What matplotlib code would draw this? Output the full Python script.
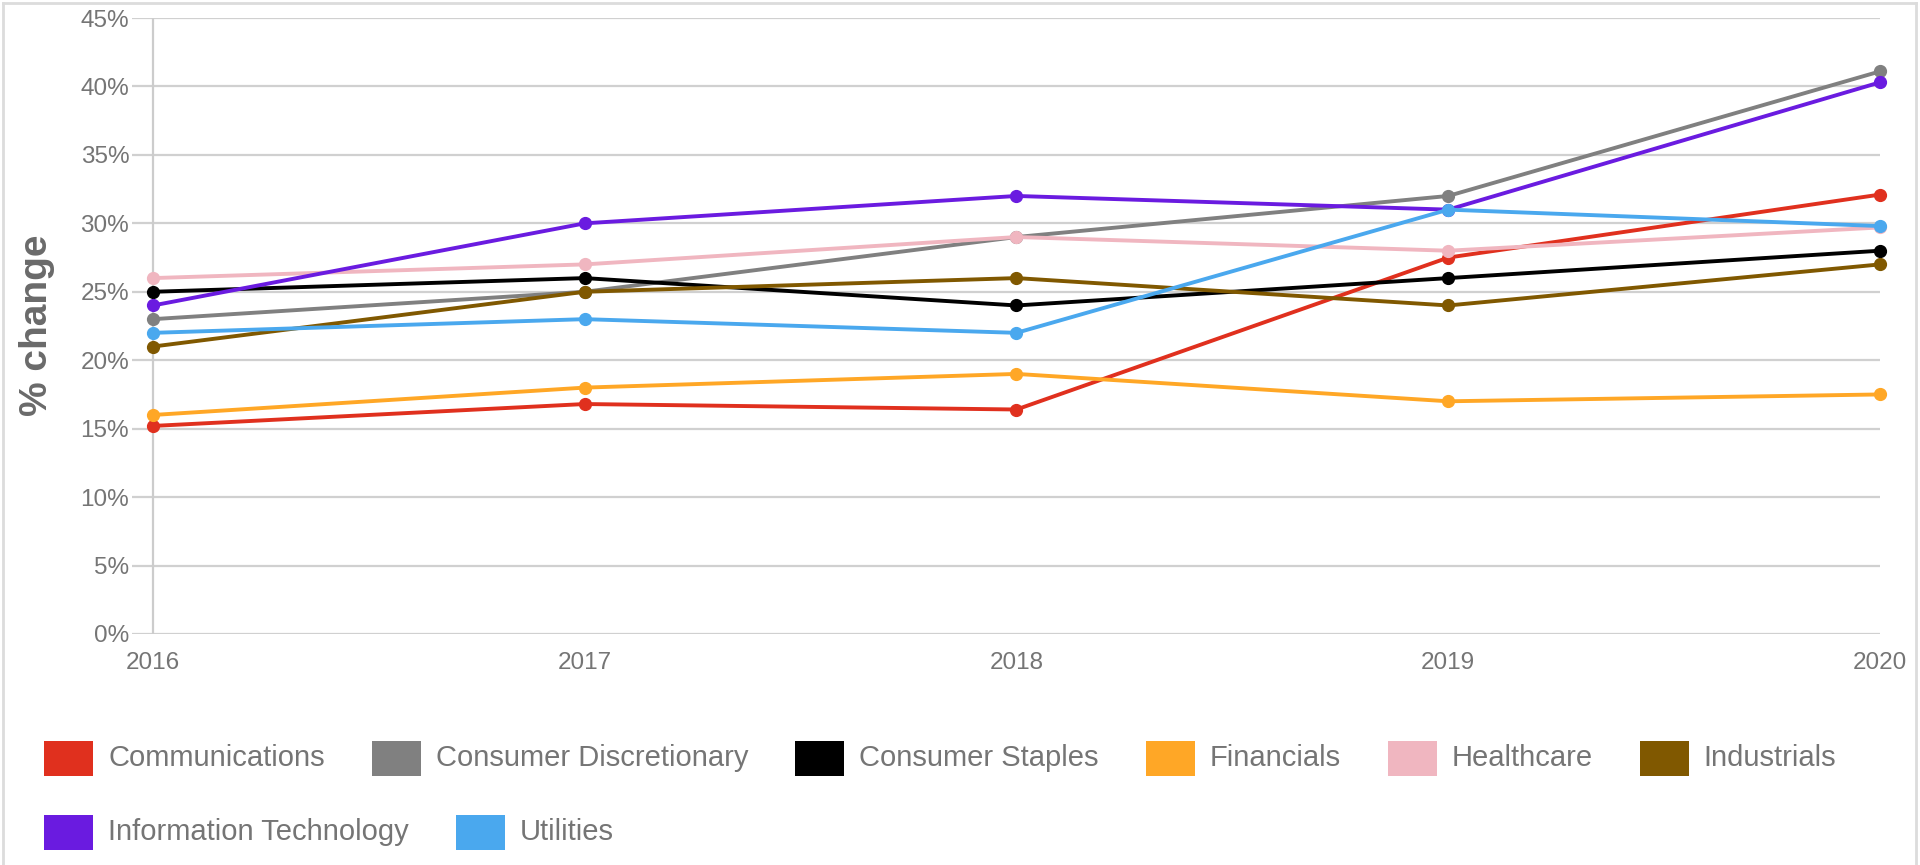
import matplotlib
matplotlib.use("Agg")
from matplotlib import pyplot as plt
from matplotlib.patches import Rectangle
from matplotlib.lines import Line2D

plt.rcParams['font.family'] = ['Liberation Sans', 'DejaVu Sans']

years = [2016, 2017, 2018, 2019, 2020]
sectors = ["Communications", "Consumer Discretionary", "Consumer Staples",
           "Financials", "Healthcare", "Industrials",
           "Information Technology", "Utilities"]
communications = [15.2, 16.8, 16.4, 27.5, 32.1]
consumer_discretionary = [23, 25, 29, 32, 41.1]
consumer_staples = [25, 26, 24, 26, 28]
financials = [16, 18, 19, 17, 17.5]
healthcare = [26, 27, 29, 28, 29.7]
industrials = [21, 25, 26, 24, 27]
information_technology = [24, 30, 32, 31, 40.3]
utilities = [22, 23, 22, 31, 29.8]
series = [communications, consumer_discretionary, consumer_staples,
          financials, healthcare, industrials, information_technology,
          utilities]
colors = ["#e0301e", "#808080", "#000000", "#ffa726", "#f0b6c0",
          "#805800", "#6a1be0", "#4aa8ee"]
yticks = list(range(0, 50, 5))

W, H = 1920, 865
fig = plt.figure(figsize=(W / 100, H / 100), dpi=100)

# axes: gridlines run from x=132 to 1880, first year sits at x=153
left, right, top, bottom = 132, 1880, 18, 634
ax = fig.add_axes([left / W, (H - bottom) / H, (right - left) / W,
                   (bottom - top) / H])
step = (right - 153) / 4.0
ax.set_xlim(2016 - (153 - left) / step, 2020)
ax.set_ylim(0, 45)

for v in yticks:
    ax.axhline(v, color="#d0d0d0", lw=1.6, zorder=0)
ax.axvline(2016, color="#cccccc", lw=1.6, zorder=0.5)

for vals, c in zip(series, colors):
    ax.plot(years, vals, color=c, lw=2.8, marker="o", markersize=8.5,
            clip_on=False, zorder=3)

for s in ax.spines.values():
    s.set_visible(False)
ax.set_yticks(yticks)
ax.set_yticklabels(["{}%".format(v) for v in yticks])
ax.set_xticks(years)
ax.set_xticklabels([str(y) for y in years])
ax.tick_params(axis="y", length=0, pad=2, labelsize=17.5, labelcolor="#757575")
ax.tick_params(axis="x", length=0, pad=13, labelsize=17.5, labelcolor="#757575")
fig.text(37 / W, (H - 325) / H, "% change", fontsize=28, fontweight="bold",
         color="#6a6a6a", rotation=90, ha="center", va="center")

# outer border
for xy in [((3, 3), (3, H + 5)), ((1916, 1916), (3, H + 5)),
           ((3, 1916), (3, 3))]:
    fig.add_artist(Line2D([xy[0][0] / W, xy[0][1] / W],
                          [1 - xy[1][0] / H, 1 - xy[1][1] / H],
                          color="#dcdcdc", lw=2))

# flowing legend
renderer = fig.canvas.get_renderer()
rows = [758, 832]
x, row = 44, 0
for name, c in zip(sectors, colors):
    if name == "Information Technology":
        x, row = 44, 1
    yc = rows[row]
    fig.add_artist(Rectangle((x / W, (H - yc - 17.5) / H), 49 / W, 35 / H,
                             facecolor=c, edgecolor="none"))
    t = fig.text((x + 64) / W, (H - yc) / H, name, fontsize=21,
                 color="#757575", va="center", ha="left")
    ext = t.get_window_extent(renderer)
    x = x + 64 + ext.width + 47

fig.savefig("out.png", dpi=100, facecolor="white")
